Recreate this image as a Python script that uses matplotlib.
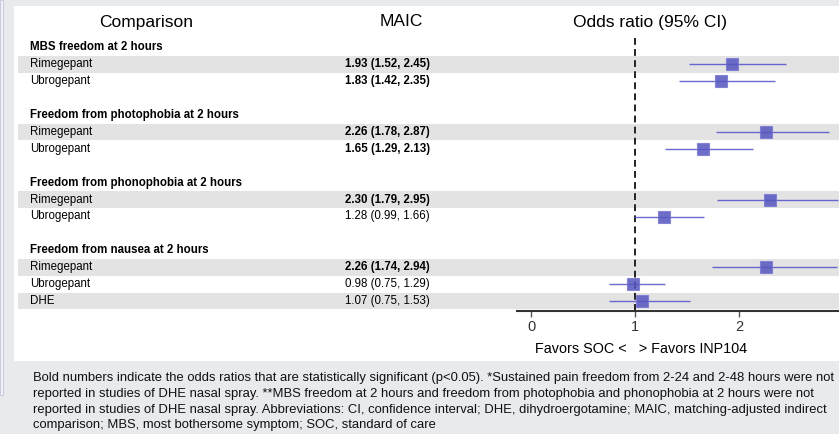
import matplotlib
matplotlib.use("Agg")
import matplotlib.pyplot as plt
from matplotlib.patches import Rectangle

plt.rcParams['font.family'] = 'Liberation Sans'

# outcomes and comparators
groups = ["MBS freedom at 2 hours",
          "Freedom from photophobia at 2 hours",
          "Freedom from phonophobia at 2 hours",
          "Freedom from nausea at 2 hours"]
comparators = [["Rimegepant", "Ubrogepant"],
               ["Rimegepant", "Ubrogepant"],
               ["Rimegepant", "Ubrogepant"],
               ["Rimegepant", "Ubrogepant", "DHE"]]
odds = [[1.93, 1.83], [2.26, 1.65], [2.30, 1.28], [2.26, 0.98, 1.07]]
ci_low = [[1.52, 1.42], [1.78, 1.29], [1.79, 0.99], [1.74, 0.75, 0.75]]
ci_high = [[2.45, 2.35], [2.87, 2.13], [2.95, 1.66], [2.94, 1.29, 1.53]]
signif = [[True, True], [True, True], [True, False], [True, False, False]]

footnote = [
    "Bold numbers indicate the odds ratios that are statistically significant (p<0.05). *Sustained pain freedom from 2-24 and 2-48 hours were not",
    "reported in studies of DHE nasal spray. **MBS freedom at 2 hours and freedom from photophobia and phonophobia at 2 hours were not",
    "reported in studies of DHE nasal spray. Abbreviations: CI, confidence interval; DHE, dihydroergotamine; MAIC, matching-adjusted indirect",
    "comparison; MBS, most bothersome symptom; SOC, standard of care",
]

W, H = 839, 434
fig = plt.figure(figsize=(W / 100, H / 100), dpi=100)
fig.patch.set_facecolor('#e9eaed')

# white panel + bit of neighbouring panel on the left
fig.patches.append(Rectangle((14 / W, 1 - 361 / H), (W - 14) / W, 355 / H,
                             transform=fig.transFigure, facecolor='white', edgecolor='none', zorder=0))
fig.patches.append(Rectangle((0, 1 - 395 / H), 3 / W, 395 / H,
                             transform=fig.transFigure, facecolor='#f3f4fa', edgecolor='#c9cde0', lw=0.8, zorder=0))

left, right, top, bottom = 18, W, 10, 311
ax = fig.add_axes([left / W, 1 - bottom / H, (right - left) / W, (bottom - top) / H])
ax.set_zorder(2)
ax.patch.set_alpha(0)

px_per_unit = 104
x0 = 531
ax.set_xlim(-(x0 - left) / px_per_unit, (right - x0) / px_per_unit)
row_h, row0 = 16.9, 47.5
ax.set_ylim((bottom - row0) / row_h, (top - row0) / row_h)

trans = ax.get_yaxis_transform()  # x in axes fraction, y in data
lab_x = (30 - left) / (right - left)
val_x = (345 - left) / (right - left)

k = 0
for g, name in enumerate(groups):
    ax.text(lab_x, k, name, transform=trans, fontsize=8.3, fontweight='bold', va='center', ha='left')
    k += 1
    for j, comp in enumerate(comparators[g]):
        if j % 2 == 0:
            ax.axhspan(k - 0.5, k + 0.5, color='#e3e3e3', lw=0, zorder=0)
        ax.text(lab_x, k, comp, transform=trans, fontsize=8.3, va='center', ha='left')
        s = "%.2f (%.2f, %.2f)" % (odds[g][j], ci_low[g][j], ci_high[g][j])
        ax.text(val_x, k, s, transform=trans, fontsize=8.3, va='center', ha='left',
                fontweight='bold' if signif[g][j] else 'normal')
        ax.hlines(k, ci_low[g][j], ci_high[g][j], color='#5050c8', lw=1, alpha=0.85, zorder=3)
        ax.plot(odds[g][j], k, 's', ms=9, color='#5555c0', alpha=0.85, mec='#7a7ad4', mew=0.8, zorder=4)
        k += 1
    k += 1

# column headers
hy = (22 - row0) / row_h
ax.text((146 - left) / (right - left), hy, "Comparison", transform=trans, fontsize=12.5, ha='center', va='center')
ax.text((401 - left) / (right - left), hy, "MAIC", transform=trans, fontsize=12.5, ha='center', va='center')
ax.text((650 - x0) / px_per_unit, hy, "Odds ratio (95% CI)", fontsize=12.5, ha='center', va='center')

# line of no effect
ax.plot([1, 1], [(38 - row0) / row_h, ax.get_ylim()[0]], color='#222222', lw=1.4,
        linestyle=(0, (3.5, 2.2)), zorder=2)

for sp in ['top', 'left', 'right']:
    ax.spines[sp].set_visible(False)
ax.spines['bottom'].set_bounds(-0.13, ax.get_xlim()[1])
ax.spines['bottom'].set_color('#333333')
ax.spines['bottom'].set_linewidth(1.5)
ax.set_xticks([0, 1, 2])
ax.tick_params(axis='x', length=4, width=1, color='#555555', labelsize=10.5, labelcolor='#333333', pad=2.5)
ax.set_yticks([])

fig.text(641 / W, 1 - 349 / H, "Favors SOC <   > Favors INP104", fontsize=10.4, ha='center', va='center')

for i, line in enumerate(footnote):
    fig.text(33 / W, 1 - (378 + 15.8 * i) / H, line, fontsize=9.4, ha='left', va='center', color='#111111')

fig.savefig("out.png", dpi=100, facecolor=fig.get_facecolor())
